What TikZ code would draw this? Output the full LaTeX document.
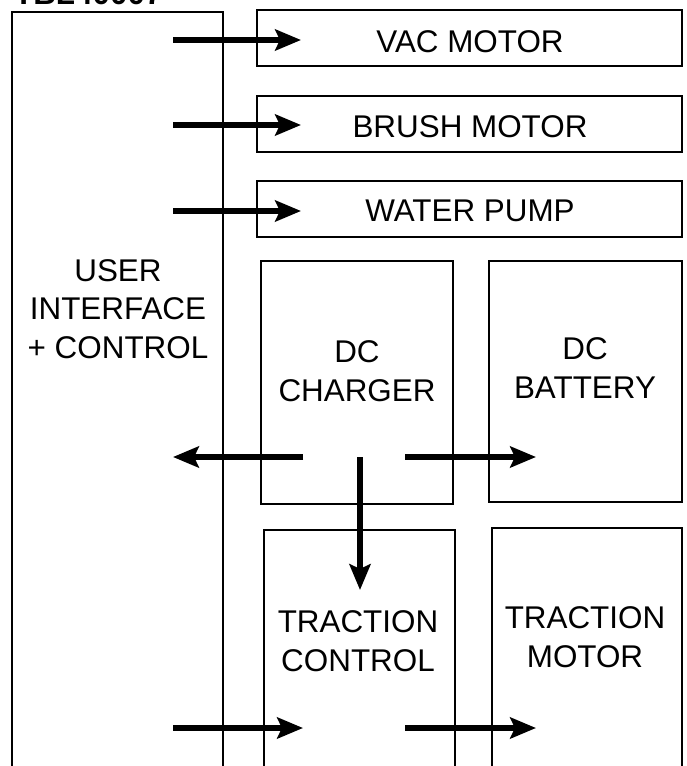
\documentclass[tikz,border=0pt]{standalone}
\usepackage{fontspec}
\setmainfont{Liberation Sans}
\usetikzlibrary{arrows.meta,fit}

\begin{document}
\begin{tikzpicture}[x=0.03cm,y=-0.03cm,
		blk/.style={draw,line width=1.7pt,inner sep=0pt},
		txt/.style={align=center,font=\fontsize{26.8}{33}\selectfont},
		e/.style={-{Stealth[length=22pt,width=18pt,inset=4pt]},line width=4.3pt}
		]
		\useasboundingbox (0,0) rectangle (686,766);
		\clip (0,0) rectangle (686,766);
		\node[anchor=base west,font=\bfseries\fontsize{26.8}{30}\selectfont] (ttl) at (10,5) {TBL40007};
		% left column
		\node[blk,fit={(12,12) (223,820)}] (ui) {};
		\node[txt] (uitxt) at (118,309) {USER\\INTERFACE\\+ CONTROL};
		% loads
		\node[blk,fit={(257,10) (682,66)}] (vac) {};
		\node[txt] (vactxt) at (470,42) {VAC MOTOR};
		\node[blk,fit={(257,96) (682,152)}] (brush) {};
		\node[txt] (brushtxt) at (470,127) {BRUSH MOTOR};
		\node[blk,fit={(257,181) (682,237)}] (pump) {};
		\node[txt] (pumptxt) at (470,211) {WATER PUMP};
		% power
		\node[blk,fit={(261,261) (453,504)}] (chg) {};
		\node[txt] (chgtxt) at (357,371) {DC\\CHARGER};
		\node[blk,fit={(489,261) (682,502)}] (bat) {};
		\node[txt] (battxt) at (585,368) {DC\\BATTERY};
		\node[blk,fit={(264,530) (455,820)}] (tc) {};
		\node[txt] (tctxt) at (358,641) {TRACTION\\CONTROL};
		\node[blk,fit={(492,528) (682,820)}] (tm) {};
		\node[txt] (tmtxt) at (585,637) {TRACTION\\MOTOR};
		% arrow ends
		\coordinate (u1) at (173,40);  \coordinate (v1) at (301,40);
		\coordinate (u2) at (173,125); \coordinate (v2) at (301,125);
		\coordinate (u3) at (173,211); \coordinate (v3) at (301,211);
		\coordinate (cl) at (303,457); \coordinate (ul) at (173,457);
		\coordinate (cr) at (405,457); \coordinate (br) at (536,457);
		\coordinate (cd) at (360,457); \coordinate (td) at (360,590);
		\coordinate (u4) at (173,728); \coordinate (t4) at (303,728);
		\coordinate (t5) at (405,728); \coordinate (m5) at (536,728);
		\draw[e] (u1)--(v1);
		\draw[e] (u2)--(v2);
		\draw[e] (u3)--(v3);
		\draw[e] (cl)--(ul);
		\draw[e] (cr)--(br);
		\draw[e] (cd)--(td);
		\draw[e] (u4)--(t4);
		\draw[e] (t5)--(m5);
	\end{tikzpicture}
\end{document}
